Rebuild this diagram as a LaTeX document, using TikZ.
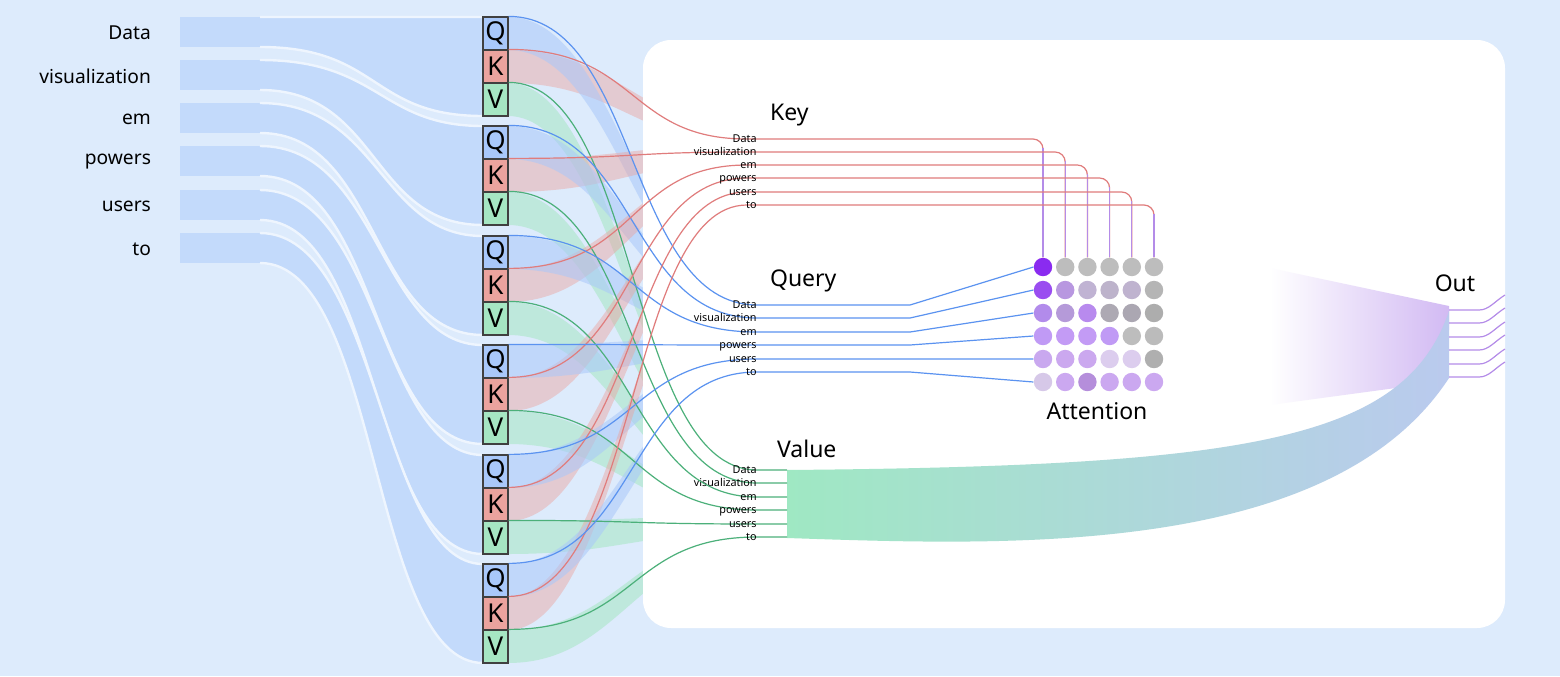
\documentclass[tikz,border=0pt]{standalone}
\usepackage{fontspec}
\setmainfont{Noto Sans}
\begin{document}
\definecolor{bg}{HTML}{DDEBFC}
\definecolor{wrc}{HTML}{C3DAFB}
\definecolor{qc}{HTML}{A9C8FA}
\definecolor{kc}{HTML}{EBA39E}
\definecolor{vc}{HTML}{A6E6C3}
\definecolor{qline}{HTML}{5B93F0}
\definecolor{kline}{HTML}{E07C7C}
\definecolor{vline}{HTML}{4CB07A}
\definecolor{pline}{HTML}{B48CE8}
\definecolor{grn}{HTML}{9FE8C3}
\definecolor{blu}{HTML}{BACAEE}
\definecolor{pur}{HTML}{D2BAF3}
\begin{tikzpicture}[x=0.5pt,y=-0.5pt,
  wr/.style={fill=wrc,draw=bg!50!white,line width=1.2pt},
  blk/.style={draw=black!75,line width=0.6pt,minimum width=12.5pt,minimum height=16.5pt,inner sep=0pt,font=\fontsize{13}{13}\selectfont},
  word/.style={anchor=east,font=\fontsize{9.6}{10}\selectfont},
  sl/.style={anchor=base east,inner sep=0pt,font=\fontsize{5.4}{6}\selectfont},
  title/.style={anchor=west,font=\fontsize{11.5}{12}\selectfont},
  thin/.style={line width=0.6pt},
  dot/.style={circle,minimum size=9.2pt,inner sep=0pt}]
\useasboundingbox (0,0) rectangle (1560,676);
\fill[bg] (0,0) rectangle (1560,676);
% word ribbons and labels
\foreach \i/\t/\w/\wy in {1/17/Data/33,2/126/visualization/76,3/236/em/119,4/345/powers/162,5/455/users/206,6/564/to/249}{
  \pgfmathsetmacro{\a}{\wy-16}\pgfmathsetmacro{\b}{\wy+14}
  \fill[wrc] (180,\a) rectangle (262,\b);
  \filldraw[wr] (260,\a) .. controls (380,\a) and (380,\t) .. (483,\t) -- (483,\t+99) .. controls (370,\t+99) and (380,\b) .. (260,\b);
  \node[word] (w\i) at (158,\wy) {\w};
}
% Q K V ribbons
\foreach \i/\t/\yk/\yq/\yv in {1/17/139/305/470,2/126/152/318/483,3/236/165/332/497,4/345/178/345/510,5/455/192/359/524,6/564/205/372/537}{
  \fill[vc,opacity=0.55] (508,\t+66) .. controls (620,\t+66) and (640,\yv-8) .. (760,\yv-8) -- (760,\yv+8) .. controls (640,\yv+8) and (620,\t+99) .. (508,\t+99) -- cycle;
  \fill[kc,opacity=0.45] (508,\t+33) .. controls (620,\t+33) and (640,\yk-8) .. (760,\yk-8) -- (760,\yk+8) .. controls (640,\yk+8) and (620,\t+66) .. (508,\t+66) -- cycle;
  \fill[qc,opacity=0.55] (508,\t) .. controls (620,\t) and (640,\yq-8) .. (760,\yq-8) -- (760,\yq+8) .. controls (640,\yq+8) and (620,\t+33) .. (508,\t+33) -- cycle;
}
% panel
\fill[white,rounded corners=14pt] (643,40) rectangle (1505,628);
% attention dots
\foreach \row [count=\r] in {{8A2BF0,BDBDBD,BDBDBD,BDBDBD,BDBDBD,BDBDBD},{9A4DF0,B897E0,C0B3D3,BDB3CB,BFB3CF,B5B5B5},{B28BEB,B59AD9,B88AEE,ADA9B3,ABA7B2,ADADAD},{C09AF5,C39BF5,C39BF5,C09AF5,BDBDBD,BBBBBB},{C9A8EF,CBA8EF,CBA8EF,DCCDEE,DCCDEE,AFAFAF},{D6C8E8,CBA8F0,B58EDB,CBA8F0,CBA8F0,CBA8F0}}{
  \foreach \c [count=\j] in \row {
    \definecolor{tmp}{HTML}{\c}
    \node[dot,fill=tmp] (d\r\j) at ({1043+22.2*(\j-1)},{267+23*(\r-1)}) {};
  }
}
% purple out triangle
\shade[left color=white,right color=pur] (1270,268) -- (1449,306) -- (1449,330) -- (1418,385) -- (1270,405) -- cycle;
% value band
\shade[left color=grn,right color=blu] (787,470) .. controls (1250,466) and (1405,440) .. (1449,311) -- (1449,378) .. controls (1330,560) and (1000,545) .. (787,538) -- cycle;
% blocks, lines, labels
\foreach \i/\t/\w/\yk/\yq/\yv in {1/17/Data/139/305/470,2/126/visualization/152/318/483,3/236/em/165/332/497,4/345/powers/178/345/510,5/455/users/192/359/524,6/564/to/205/372/537}{
  \node[blk,fill=qc] (q\i) at (495.5,\t+16.5) {Q};
  \node[blk,fill=kc] (k\i) at (495.5,\t+49.5) {K};
  \node[blk,fill=vc] (v\i) at (495.5,\t+82.5) {V};
  \coordinate (kr\i) at (757,\yk);
  \coordinate (kc\i) at (0,\yk+9);
  \coordinate (qr\i) at (757,\yq);
  \coordinate (vr\i) at (757,\yv);
  \coordinate (vb\i) at (787,\yv);
  \coordinate (qm\i) at (910,\yq);
  \draw[thin,kline,rounded corners=5pt] (k\i.north east) .. controls +(130,0) and +(-130,0) .. (kr\i) -| (d1\i.north);
  \draw[thin,pline] (d1\i.north) -- (d1\i.north |- kc\i);
  \draw[thin,qline] (q\i.north east) .. controls +(130,0) and +(-130,0) .. (qr\i) -- (qm\i) -- (d\i1.west);
  \draw[thin,vline] (v\i.north east) .. controls +(130,0) and +(-130,0) .. (vr\i) -- (vb\i);
  \node[sl] (kl\i) at ([yshift=-1.5pt]kr\i) {\w};
  \node[sl] (ql\i) at ([yshift=-1.5pt]qr\i) {\w};
  \node[sl] (vl\i) at ([yshift=-1.5pt]vr\i) {\w};
}
% out lines
\foreach \y [count=\i] in {310,323,337,350,364,377}{
  \coordinate (oa\i) at (1449,\y);
  \coordinate (ob\i) at (1505,\y-15);
  \draw[thin,pline] (oa\i) -- ++(30,0) .. controls +(10,0) and +(-10,6) .. (ob\i);
}
\node[title] (key) at (763,115) {Key};
\node[title] (query) at (763,281) {Query};
\node[title] (value) at (770,449) {Value};
\node[title,anchor=center] (att) at (1097,411) {Attention};
\node[title,anchor=center] (out) at (1455,283) {Out};
\end{tikzpicture}
\end{document}
